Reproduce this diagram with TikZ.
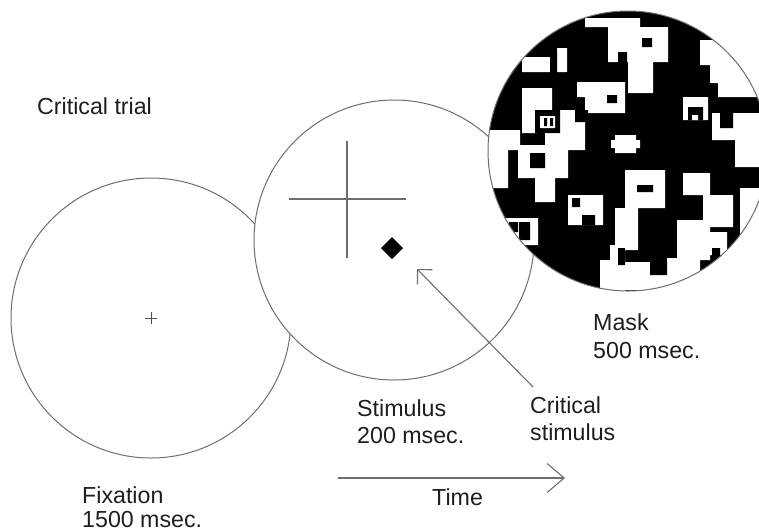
\documentclass[tikz,border=0pt]{standalone}
\usepackage{fontspec}
\setmainfont{Liberation Sans}
\usetikzlibrary{arrows.meta}
\definecolor{linegray}{HTML}{6E6E6E}
\definecolor{txt}{HTML}{1E1E1E}
\begin{document}
\begin{tikzpicture}[x=1pt,y=-1pt,
  lbl/.style={anchor=base west,inner sep=0pt,text=txt,font=\fontsize{23.2}{27}\selectfont},
  ring/.style={circle,draw=linegray,line width=1pt,fill=white,inner sep=0pt,minimum size=280pt},
  thin/.style={draw=linegray,line width=1.1pt},
  arr/.style={draw=linegray,line width=1.1pt}
]
\useasboundingbox (0,0) rectangle (759,531);
% fixation
\node[ring] (fix) at (151,318) {};
\draw[black!70,line width=0.8pt] (145,318) -- (157,318) (151,312) -- (151,324);
% stimulus
\node[ring] (stim) at (394,240) {};
\draw[thin] (289,199) -- (406,199) (347,141) -- (347,258);
\fill[black] (392,237) -- (403,248) -- (392,259) -- (381,248) -- cycle;
% mask
\begin{scope}
\clip (628,151) circle[radius=140pt];
\fill[black] (628,151) circle[radius=141pt];
\fill[white]
 (585,18) rectangle (640,27)
 (608,27) rectangle (668,62)
 (628,62) rectangle (653,93)
 (700,40) rectangle (770,65)
 (710,65) rectangle (770,83)
 (718,83) rectangle (770,97)
 (712,113) rectangle (770,140)
 (735,140) rectangle (770,167)
 (683,97) rectangle (708,120)
 (615,135) rectangle (636,153)
 (611,140) rectangle (640,148)
 (522,57) rectangle (550,72)
 (557,48) rectangle (567,72)
 (522,88) rectangle (552,112)
 (522,112) rectangle (538,133)
 (577,82) rectangle (625,97)
 (585,97) rectangle (625,113)
 (560,110) rectangle (585,133)
 (480,130) rectangle (520,150)
 (480,150) rectangle (508,188)
 (545,133) rectangle (585,150)
 (518,145) rectangle (568,178)
 (535,178) rectangle (555,202)
 (505,218) rectangle (538,245)
 (568,195) rectangle (603,225)
 (610,245) rectangle (625,260)
 (600,260) rectangle (625,295)
 (625,170) rectangle (665,208)
 (615,208) rectangle (638,250)
 (683,173) rectangle (710,195)
 (703,195) rectangle (733,227)
 (677,220) rectangle (710,260)
 (667,258) rectangle (700,278)
 (710,232) rectangle (727,255)
 (740,188) rectangle (770,242)
 (620,262) rectangle (700,290);
\fill[black]
 (642,38) rectangle (652,47)
 (618,52) rectangle (627,63)
 (720,110) rectangle (733,128)
 (688,107) rectangle (703,120)
 (550,50) rectangle (557,72)
 (535,110) rectangle (560,133)
 (607,95) rectangle (617,103)
 (575,110) rectangle (588,122)
 (530,153) rectangle (545,168)
 (509,222) rectangle (518,232)
 (519,222) rectangle (530,240)
 (572,198) rectangle (580,207)
 (582,215) rectangle (595,225)
 (637,185) rectangle (653,192)
 (618,248) rectangle (625,265)
 (650,262) rectangle (667,275)
 (712,248) rectangle (720,258);
\fill[white]
 (692,115) rectangle (698,120)
 (540,116) rectangle (555,128);
\fill[black] (544,118) rectangle (547,126) (550,118) rectangle (553,126);
\end{scope}
\node[circle,draw=linegray,line width=1pt,inner sep=0pt,minimum size=280pt] (mask) at (628,151) {};
% labels
\node[lbl] (title) at (37,114) {Critical trial};
\node[lbl] (fixa) at (82,503) {Fixation};
\node[lbl] (fixb) at (82,527) {1500 msec.};
\node[lbl] (stima) at (357,416) {Stimulus};
\node[lbl] (stimb) at (357,443) {200 msec.};
\node[lbl] (crita) at (530,413) {Critical};
\node[lbl] (critb) at (530,440) {stimulus};
\node[lbl] (maska) at (593,330) {Mask};
\node[lbl] (maskb) at (593,358) {500 msec.};
\node[lbl] (time) at (432,505) {Time};
% arrows
\coordinate (cs) at (533,387);
\coordinate (ct) at (417,269);
\draw[arr,-{Straight Barb[length=10.6pt,width=21pt]}] (cs) -- (ct);
\coordinate (ts) at (338,478);
\coordinate (te) at (565,478);
\draw[arr,-{Straight Barb[length=17pt,width=29pt]}] (ts) -- (te);
\end{tikzpicture}
\end{document}
